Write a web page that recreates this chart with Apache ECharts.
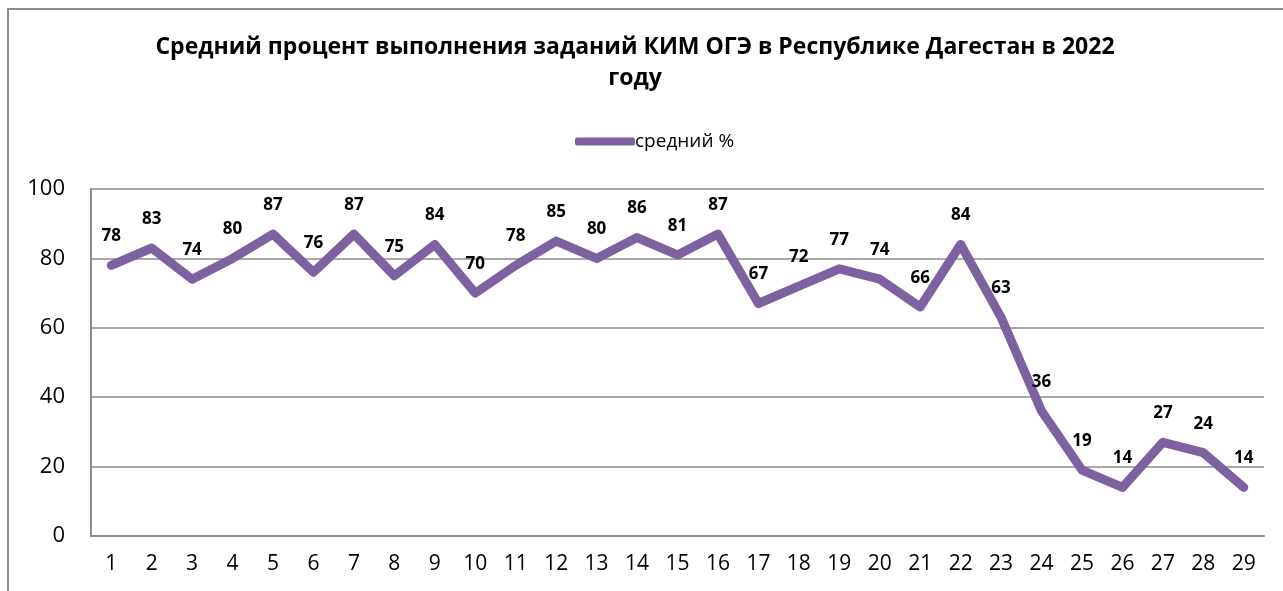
<!DOCTYPE html>
<html>
<head>
<meta charset="utf-8">
<script src="https://cdn.jsdelivr.net/npm/echarts@6/dist/echarts.min.js"></script>
<style>
  html, body { margin: 0; padding: 0; background: #fff; }
  #chart { width: 1283px; height: 591px; }
</style>
</head>
<body>
<div id="chart"></div>
<script>
// номера заданий
const tasks = ['1','2','3','4','5','6','7','8','9','10','11','12','13','14','15','16','17','18','19','20','21','22','23','24','25','26','27','28','29'];
// средний % выполнения
const avgPercent = [78, 83, 74, 80, 87, 76, 87, 75, 84, 70, 78, 85, 80, 86, 81, 87, 67, 72, 77, 74, 66, 84, 63, 36, 19, 14, 27, 24, 14];
const seriesName = 'средний %';
const titleText = 'Средний процент выполнения заданий КИМ ОГЭ в Республике Дагестан в 2022\nгоду';

const font = '"Open Sans", "Noto Sans", sans-serif';
const purple = '#7e61a0';
const myChart = echarts.init(document.getElementById('chart'));

myChart.setOption({
  animation: false,
  textStyle: { fontFamily: font },
  title: {
    text: titleText,
    left: 630,
    textAlign: 'center',
    top: 27,
    textStyle: { fontSize: 23, fontWeight: 'bold', color: '#000', lineHeight: 31, fontFamily: font }
  },
  legend: {
    top: 127,
    left: 570,
    itemWidth: 60,
    itemHeight: 8,
    itemGap: 0,
    textStyle: { fontSize: 19, color: '#000', padding: [0, 0, 0, -5] },
    data: [{ name: seriesName, icon: 'roundRect', itemStyle: { color: purple, opacity: 1 } }]
  },
  grid: { left: 91, right: 19, top: 189, bottom: 55 },
  xAxis: {
    type: 'category',
    data: tasks,
    boundaryGap: true,
    axisLine: { lineStyle: { color: '#8c8c8c', width: 2 } },
    axisTick: { show: false },
    axisLabel: { fontSize: 21, color: '#000', margin: 18 }
  },
  yAxis: {
    type: 'value',
    min: 0,
    max: 100,
    interval: 20,
    axisLine: { show: true, lineStyle: { color: '#8c8c8c', width: 2 } },
    axisTick: { show: false },
    axisLabel: { fontSize: 22, color: '#000', margin: 26 },
    splitLine: { lineStyle: { color: '#8c8c8c', width: 1.5 } }
  },
  series: [{
    name: seriesName,
    type: 'line',
    data: avgPercent,
    symbol: 'circle',
    symbolSize: 1,
    showSymbol: true,
    lineStyle: { color: purple, width: 9, cap: 'round', join: 'round' },
    itemStyle: { color: 'rgba(0,0,0,0)', borderWidth: 0 },
    label: {
      show: true,
      position: 'top',
      distance: 20,
      fontSize: 17,
      fontWeight: 'bold',
      color: '#000'
    }
  }],
  graphic: [{
    type: 'polyline',
    shape: { points: [[8, 600], [8, 9], [1290, 9]] },
    style: { stroke: '#8c8c8c', lineWidth: 2, fill: null }
  }]
});
</script>
</body>
</html>
